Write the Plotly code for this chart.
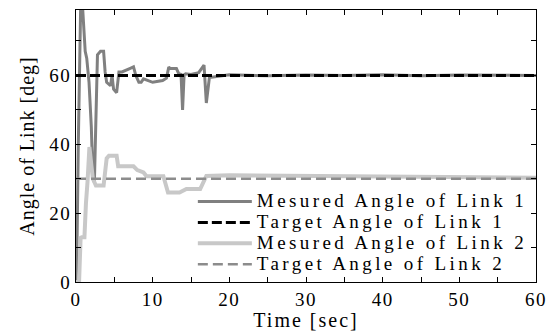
import plotly.graph_objects as go

# Time axis samples (sec) and measured angles (deg)
t_link1 = [0, 0.1, 0.3, 0.6, 0.8, 1.0, 1.2, 1.4, 1.7, 2.0, 2.2, 2.4, 2.6, 2.8, 3.2, 3.6, 3.8,
           4.0, 4.5, 4.7, 4.9, 5.3, 5.6, 6.0, 7.0, 7.5, 7.8, 8.2, 8.5, 8.8, 10.0, 11.3, 11.8,
           12.1, 12.3, 13.1, 13.4, 13.7, 13.9, 14.1, 14.3, 15.0, 16.0, 16.4, 16.7, 17.0, 17.4,
           20, 25, 30, 35, 40, 45, 50, 55, 60]
v_link1 = [0, 5, 40, 79, 82, 75, 67, 65, 58, 45, 30, 29, 50, 66, 67, 67, 61,
           58, 57, 60, 56, 55, 61, 61, 62, 62.5, 60, 58, 58, 59, 58, 58.5, 59.2,
           62.4, 62, 62, 60.5, 60.3, 50, 60.2, 60.5, 60.3, 60.8, 62, 63, 52, 59.4,
           60.2, 59.9, 60.1, 60.0, 60.2, 59.9, 60.1, 60.0, 60.0]

t_link2 = [0, 0.4, 0.6, 0.75, 1.1, 1.2, 1.3, 1.5, 1.7, 1.75, 2.0, 2.2, 2.6, 3.6, 4.0,
           4.3, 5.3, 5.5, 7.5, 8.0, 8.8, 9.2, 11.4, 11.6, 12.0, 13.5, 14.0, 14.4, 16.2,
           16.4, 16.8, 17.0, 20, 25, 30, 35, 40, 45, 50, 55, 60]
v_link2 = [0, 0, 12.8, 13, 13, 22.3, 23, 29, 36.8, 39.2, 34, 30, 28, 28, 35.9,
           36.7, 36.7, 33.6, 33.6, 32.5, 31.8, 30.7, 30.7, 29.2, 26, 26, 26.7, 27, 27,
           27.8, 29.8, 30.8, 31, 30.9, 30.7, 30.6, 30.6, 30.5, 30.4, 30.4, 30.3]

t_target = [0, 60]
v_target1 = [60, 60]
v_target2 = [30, 30]

series_names = ["Mesured Angle of Link 1", "Target Angle of Link 1",
                "Mesured Angle of Link 2", "Target Angle of Link 2"]

x_tick_vals = list(range(0, 61, 5))
x_tick_text = [str(v) if v % 10 == 0 else "" for v in x_tick_vals]
y_tick_vals = list(range(0, 80, 10))
y_tick_text = [str(v) if v % 20 == 0 else "" for v in y_tick_vals]

FONT = "Liberation Serif"

fig = go.Figure()
fig.add_trace(go.Scatter(x=t_link1, y=v_link1, mode="lines", name=series_names[0],
                         line=dict(color="#808080", width=3)))
fig.add_trace(go.Scatter(x=t_target, y=v_target1, mode="lines", name=series_names[1],
                         line=dict(color="#000000", width=3, dash="10px,4px")))
fig.add_trace(go.Scatter(x=t_link2, y=v_link2, mode="lines", name=series_names[2],
                         line=dict(color="#c8c8c8", width=4)))
fig.add_trace(go.Scatter(x=t_target, y=v_target2, mode="lines", name=series_names[3],
                         line=dict(color="#8c8c8c", width=2.5, dash="10px,5px")))

axis_common = dict(showgrid=False, zeroline=False, showline=True, linecolor="black",
                   linewidth=1, ticks="inside", ticklen=5, tickcolor="black",
                   mirror="ticks", tickmode="array",
                   tickfont=dict(family=FONT, size=19, color="black"))

fig.update_xaxes(range=[0, 60], tickvals=x_tick_vals, ticktext=x_tick_text,
                 title=dict(text="Time [sec]", font=dict(family=FONT, size=20, color="black"),
                            standoff=2),
                 **axis_common)
fig.update_yaxes(range=[0, 79], tickvals=y_tick_vals, ticktext=y_tick_text,
                 title=dict(text="Angle of Link [deg]", font=dict(family=FONT, size=20, color="black"),
                            standoff=12),
                 **axis_common)

fig.update_layout(
    width=554, height=331,
    margin=dict(l=76, r=18, t=10, b=49, autoexpand=False),
    plot_bgcolor="white", paper_bgcolor="white",
    font=dict(family=FONT, color="black"),
    showlegend=True,
    legend=dict(x=0.254, y=0.353, xanchor="left", yanchor="top",
                bgcolor="rgba(0,0,0,0)", borderwidth=0,
                font=dict(family=FONT, size=13.8, color="black"),
                itemwidth=54, tracegroupgap=0),
)

post = ("var s=document.createElement('style');"
        "s.textContent='.legendtext{letter-spacing:3.4px;font-size:19px !important}"
        ".legend g,.legend .scrollbox{clip-path:none !important}"
        ".xtick text,.ytick text{letter-spacing:1.5px}"
        ".g-xtitle text{letter-spacing:2px}.g-ytitle text{letter-spacing:1px}';"
        "document.head.appendChild(s);")

fig.write_html("out.html", post_script=post)
